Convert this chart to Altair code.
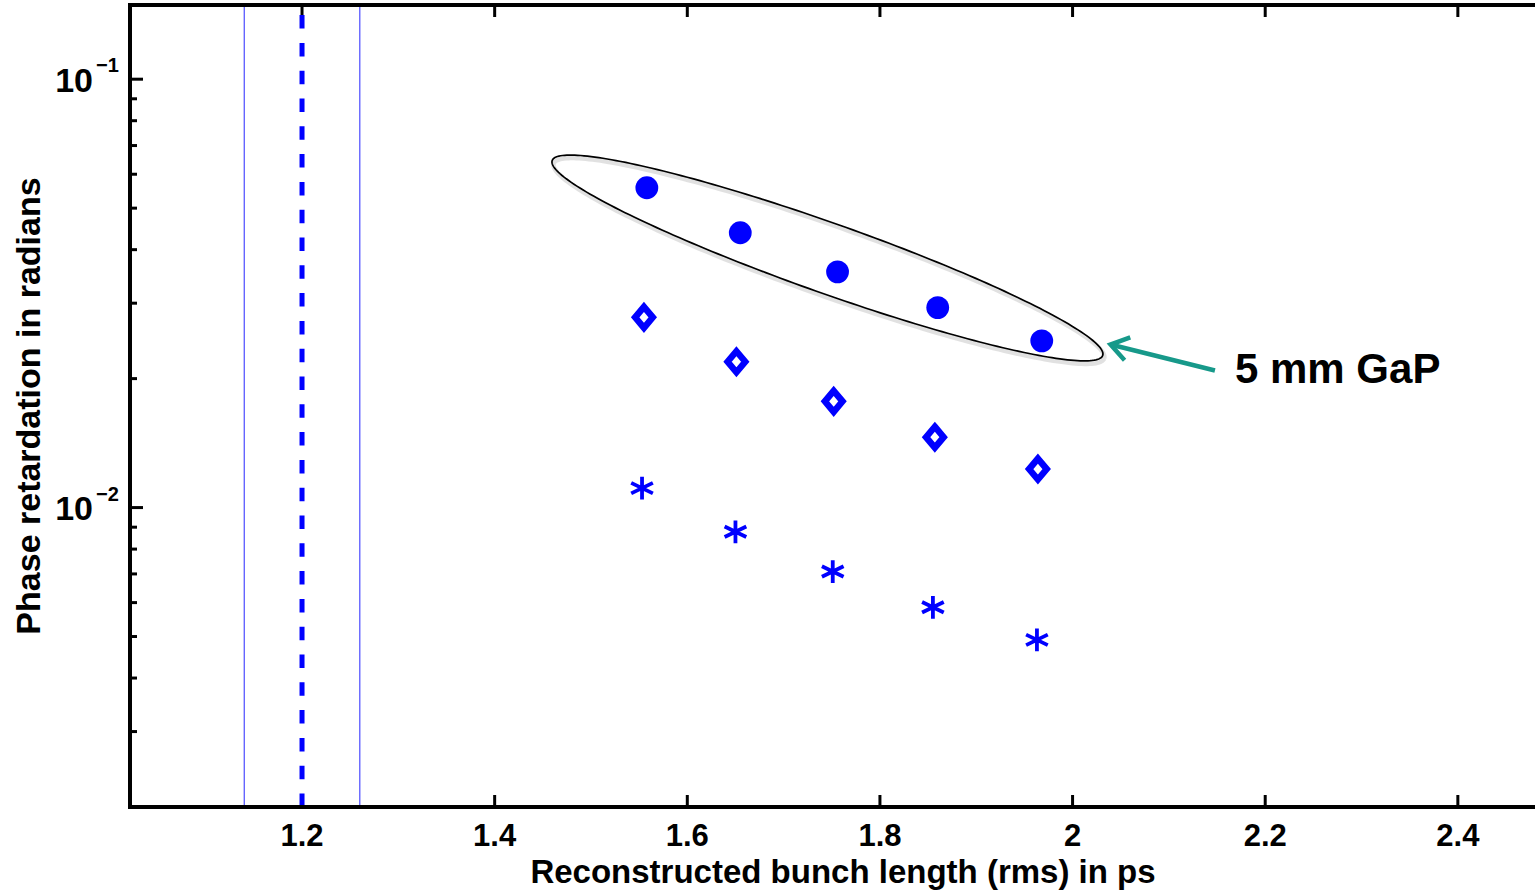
import altair as alt
import pandas as pd
import numpy as np

# ---------------- data ----------------
x_circle = [1.558, 1.655, 1.756, 1.860, 1.968]
y_circle = [0.0558, 0.0438, 0.0355, 0.0293, 0.0245]

x_diamond = [1.555, 1.651, 1.752, 1.857, 1.964]
y_diamond = [0.0278, 0.0219, 0.0177, 0.0146, 0.0123]

x_star = [1.553, 1.650, 1.751, 1.855, 1.963]
y_star = [0.0111, 0.00878, 0.00709, 0.00585, 0.00491]

vline_center = [1.2]
vline_bounds = [1.14, 1.26]

x_ticks = [1.2, 1.4, 1.6, 1.8, 2.0, 2.2, 2.4]
x_tick_labels = ["1.2", "1.4", "1.6", "1.8", "2", "2.2", "2.4"]
y_major = [0.1, 0.01]
y_major_exp = ["\u22121", "\u22122"]
y_minor = [0.003, 0.004, 0.005, 0.006, 0.007, 0.008, 0.009,
           0.02, 0.03, 0.04, 0.05, 0.06, 0.07, 0.08, 0.09]

# annotation (data units)
ellipse_center = (1.7455, 0.03825)
ellipse_axes_px = (292, 35)
ellipse_angle_deg = 19.5
arrow_tip = (2.0394, 0.02402)
arrow_tail = (2.1478, 0.02089)
note_pos = (2.1686, 0.0195)
note_text = "5 mm GaP"

# ---------------- layout ----------------
X0, X1 = 1.0214, 2.4801
Y0, Y1 = 0.002, 0.149
W, H = 1405, 802
PXX = W / (X1 - X0)
PXD = H / (np.log10(Y1) - np.log10(Y0))

BLUE = "#0000ff"
FONT = "Liberation Sans"

xs = alt.Scale(domain=[X0, X1], nice=False, zero=False)
ys = alt.Scale(type="log", domain=[Y0, Y1], nice=False)

def X(field):
    return alt.X(field, type="quantitative", scale=xs, axis=None)

def Y(field):
    return alt.Y(field, type="quantitative", scale=ys, axis=None)

# ---------- derived annotation geometry ----------
t = np.linspace(0, 2 * np.pi, 241)
a, b = ellipse_axes_px
th = np.radians(ellipse_angle_deg)
u, v = a * np.cos(t), b * np.sin(t)
dxp = u * np.cos(th) - v * np.sin(th)
dyp = u * np.sin(th) + v * np.cos(th)
ell = pd.DataFrame({
    "x": ellipse_center[0] + dxp / PXX,
    "y": 10 ** (np.log10(ellipse_center[1]) - dyp / PXD),
    "i": np.arange(len(t)),
})
shadow = pd.DataFrame({
    "x": ell["x"] + 1.5 / PXX,
    "y": 10 ** (np.log10(ell["y"]) - 3.0 / PXD),
    "i": ell["i"],
})

# arrow
tx, ty = arrow_tip
lx, ly = arrow_tail
ddx = (lx - tx) * PXX
ddy = -(np.log10(ly) - np.log10(ty)) * PXD
n = np.hypot(ddx, ddy)
ux, uy = ddx / n, ddy / n
rows = []
for k, ang in enumerate([np.radians(34), np.radians(-34)]):
    rx = ux * np.cos(ang) - uy * np.sin(ang)
    ry = ux * np.sin(ang) + uy * np.cos(ang)
    bx = tx + 21 * rx / PXX
    by = 10 ** (np.log10(ty) - 21 * ry / PXD)
    if k == 0:
        rows.append({"x": bx, "y": by, "seg": "head", "o": 0})
        rows.append({"x": tx, "y": ty, "seg": "head", "o": 1})
    else:
        rows.append({"x": bx, "y": by, "seg": "head", "o": 2})
rows.append({"x": tx, "y": ty, "seg": "shaft", "o": 0})
rows.append({"x": lx, "y": ly, "seg": "shaft", "o": 1})
arrow = pd.DataFrame(rows)

# ---------------- layers ----------------
pts_c = pd.DataFrame({"x": x_circle, "y": y_circle})
pts_d = pd.DataFrame({"x": x_diamond, "y": y_diamond})
pts_s = pd.DataFrame({"x": x_star, "y": y_star})

one = pd.DataFrame({"k": [0]})
frame_left = alt.Chart(one).mark_rule(color="black", strokeWidth=4).encode(
    x=alt.value(0), y=alt.value(-2), y2=alt.value(H + 2))
frame_bottom = alt.Chart(one).mark_rule(color="black", strokeWidth=4).encode(
    x=alt.value(-2), x2=alt.value(W + 5), y=alt.value(H))
frame_top = alt.Chart(one).mark_rule(color="black", strokeWidth=4).encode(
    x=alt.value(-2), x2=alt.value(W + 5), y=alt.value(0))

xt = pd.DataFrame({"x": x_ticks, "lab": x_tick_labels})
ticks_bottom = alt.Chart(xt).mark_rule(color="black", strokeWidth=3).encode(
    x=X("x"), y=alt.value(H), y2=alt.value(H - 12))
ticks_top = alt.Chart(xt).mark_rule(color="black", strokeWidth=3).encode(
    x=X("x"), y=alt.value(0), y2=alt.value(12))
x_labels = alt.Chart(xt).mark_text(font=FONT, fontWeight="bold", fontSize=31,
                                   baseline="alphabetic", align="center", color="black").encode(
    x=X("x"), y=alt.value(H + 39), text="lab:N")

ym = pd.DataFrame({"y": y_major, "e": y_major_exp, "base": ["10", "10"]})
yticks_major = alt.Chart(ym).mark_rule(color="black", strokeWidth=3).encode(
    y=Y("y"), x=alt.value(0), x2=alt.value(13))
yticks_minor = alt.Chart(pd.DataFrame({"y": y_minor})).mark_rule(color="black", strokeWidth=3).encode(
    y=Y("y"), x=alt.value(0), x2=alt.value(7))
y_lab_base = alt.Chart(ym).mark_text(font=FONT, fontWeight="bold", fontSize=34, align="right",
                                     baseline="alphabetic", dy=12.5, color="black").encode(
    y=Y("y"), x=alt.value(-37), text="base:N")
y_lab_exp = alt.Chart(ym).mark_text(font=FONT, fontWeight="bold", fontSize=20, align="left",
                                    baseline="alphabetic", dy=-7, color="black").encode(
    y=Y("y"), x=alt.value(-34), text="e:N")

x_title = alt.Chart(pd.DataFrame({"t": ["Reconstructed bunch length (rms) in ps"]})).mark_text(
    font=FONT, fontWeight="bold", fontSize=33, align="center", baseline="alphabetic", color="black").encode(
    x=alt.value(713), y=alt.value(H + 76), text="t:N")
y_title = alt.Chart(pd.DataFrame({"t": ["Phase retardation in radians"]})).mark_text(
    font=FONT, fontWeight="bold", fontSize=34, align="center", baseline="alphabetic", angle=270,
    color="black").encode(
    x=alt.value(-90), y=alt.value(401), text="t:N")

vl = pd.DataFrame({"x": vline_bounds, "y0": [Y0] * 2, "y1": [Y1] * 2})
thin_lines = alt.Chart(vl).mark_rule(color="#3a3aff", strokeWidth=1.1).encode(
    x=X("x"), y=Y("y0"), y2="y1")
vc = pd.DataFrame({"x": vline_center, "y0": [Y0], "y1": [Y1]})
dash_line = alt.Chart(vc).mark_rule(color=BLUE, strokeWidth=5, strokeDash=[13.5, 14.3]).encode(
    x=X("x"), y=Y("y0"), y2="y1")

ell_shadow = alt.Chart(shadow).mark_line(color="#9a9a9a", strokeWidth=4.5, opacity=0.3).encode(
    x=X("x"), y=Y("y"), order="i:Q")
ell_line = alt.Chart(ell).mark_line(color="black", strokeWidth=1.7).encode(
    x=X("x"), y=Y("y"), order="i:Q")

arrow_layer = alt.Chart(arrow).mark_line(color="#17998a", strokeWidth=4.5, strokeJoin="miter",
                                         strokeCap="butt").encode(
    x=X("x"), y=Y("y"), detail="seg:N", order="o:Q")
note = alt.Chart(pd.DataFrame({"x": [note_pos[0]], "y": [note_pos[1]], "t": [note_text]})).mark_text(
    font=FONT, fontWeight="bold", fontSize=42, align="left", baseline="alphabetic", color="black").encode(
    x=X("x"), y=Y("y"), text="t:N")

DIAMOND = "M0,-1L0.84,0L0,1L-0.84,0Z"
STAR = "M0,-1L0,1M-0.95,-0.46L0.95,0.46M-0.95,0.46L0.95,-0.46"

stars = alt.Chart(pts_s).mark_point(shape=STAR, filled=False, stroke=BLUE, strokeWidth=3.8,
                                    size=520, opacity=1).encode(x=X("x"), y=Y("y"))
diamonds = alt.Chart(pts_d).mark_point(shape=DIAMOND, filled=False, stroke=BLUE, strokeWidth=6.5,
                                       strokeJoin="miter", size=440, opacity=1).encode(x=X("x"), y=Y("y"))
circles = alt.Chart(pts_c).mark_point(shape="circle", filled=True, color=BLUE, size=520,
                                      opacity=1).encode(x=X("x"), y=Y("y"))

chart = alt.layer(
    thin_lines, ticks_bottom, ticks_top, yticks_major, yticks_minor, dash_line,
    frame_left, frame_bottom, frame_top,
    ell_shadow, ell_line, arrow_layer, note,
    stars, diamonds, circles,
    x_labels, y_lab_base, y_lab_exp, x_title, y_title,
).properties(
    width=W, height=H,
    padding={"left": 130, "top": 5, "right": 0, "bottom": 84},
    autosize="none",
).configure_view(strokeWidth=0).configure(background="white")

chart.save("out.html", embed_options={"renderer": "svg", "actions": False})
